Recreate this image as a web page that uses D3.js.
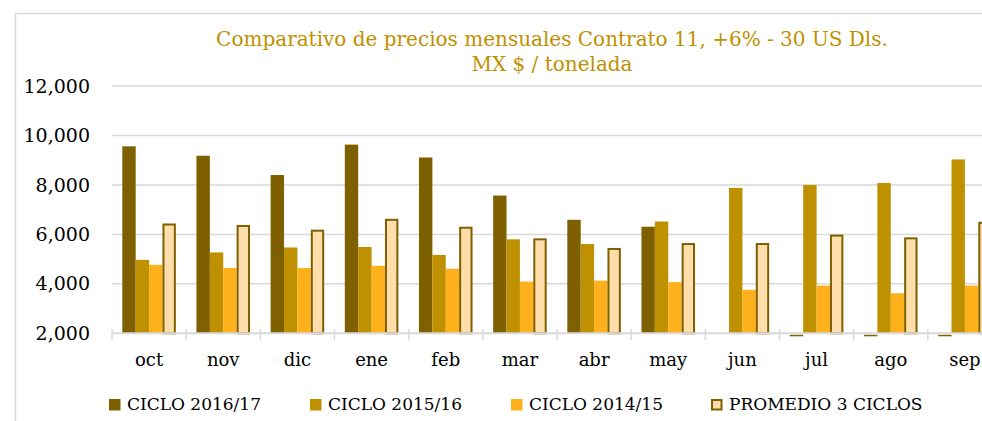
<!DOCTYPE html>
<html>
<head>
<meta charset="utf-8">
<script src="https://cdn.jsdelivr.net/npm/d3@7"></script>
<style>
  body { margin: 0; background: #fff; }
  svg { display: block; font-family: "DejaVu Serif", "Liberation Serif", serif; }
</style>
</head>
<body>
<svg id="chart" width="982" height="421"></svg>
<script>
// months of the cycle (oct - sep)
var months = ["oct","nov","dic","ene","feb","mar","abr","may","jun","jul","ago","sep"];
var seriesNames = ["CICLO 2016/17","CICLO 2015/16","CICLO 2014/15","PROMEDIO 3 CICLOS"];
var ciclo1617 = [9560, 9180, 8400, 9630, 9110, 7570, 6590, 6310, null, 0, 0, 0];
var ciclo1516 = [4970, 5270, 5470, 5490, 5170, 5800, 5610, 6520, 7880, 8000, 8080, 9030];
var ciclo1415 = [4770, 4640, 4640, 4730, 4610, 4090, 4130, 4070, 3760, 3930, 3620, 3930];
var promedio  = [6440, 6380, 6190, 6630, 6310, 5840, 5450, 5650, 5650, 5990, 5880, 6510];
var yTicks = [2000, 4000, 6000, 8000, 10000, 12000];
var titleLines = ["Comparativo de precios mensuales Contrato 11, +6% - 30 US Dls.", "MX $ / tonelada"];

var fills = ["#7f6000", "#bf9000", "#ffb11b", "#ffdeab"];
var strokes = [null, null, null, "#7f6000"];
var allSeries = [ciclo1617, ciclo1516, ciclo1415, promedio];

var svg = d3.select("#chart");

// chart frame (right/bottom edges fall outside the picture)
svg.append("path")
    .attr("d", "M15.5,430 V13.5 H1000")
    .attr("fill", "none").attr("stroke", "#d9d9d9").attr("stroke-width", 1.5);

var plotLeft = 112, plotRight = 1002, plotTop = 86, plotBottom = 333.3;

var x0 = d3.scaleBand().domain(months).range([plotLeft, plotRight]).paddingInner(0.278).paddingOuter(0.139);
var x1 = d3.scaleBand().domain(d3.range(4)).range([0, x0.bandwidth()]);
var y = d3.scaleLinear().domain([2000, 12000]).range([plotBottom, plotTop]);

// gridlines
svg.append("g").selectAll("line").data(yTicks.slice(1)).enter().append("line")
    .attr("x1", plotLeft).attr("x2", plotRight)
    .attr("y1", function(d){ return y(d); }).attr("y2", function(d){ return y(d); })
    .attr("stroke", "#d9d9d9").attr("stroke-width", 1.5);

// y labels
svg.append("g").selectAll("text").data(yTicks).enter().append("text")
    .attr("x", 90).attr("y", function(d){ return y(d); })
    .attr("dy", "0.35em").attr("text-anchor", "end")
    .attr("font-size", "19px").attr("fill", "#000")
    .text(d3.format(","));

// bars
var groups = svg.append("g").selectAll("g").data(months).enter().append("g")
    .attr("transform", function(d){ return "translate(" + x0(d) + ",0)"; });

groups.selectAll("rect").data(function(d, i){
        return allSeries.map(function(s, k){ return {k: k, v: s[i]}; });
    }).enter().filter(function(d){ return d.v !== null; })
    .append("rect")
    .attr("x", function(d){ return x1(d.k) + (strokes[d.k] ? 1 : 0); })
    .attr("width", function(d){ return x1.bandwidth() - (strokes[d.k] ? 2 : 0); })
    .attr("y", function(d){ return d.v < 2000 ? plotBottom + 1.5 : y(d.v) + (strokes[d.k] ? 1 : 0); })
    .attr("height", function(d){ return d.v < 2000 ? 1.5 : plotBottom - y(d.v) - (strokes[d.k] ? 1 : 0); })
    .attr("fill", function(d){ return fills[d.k]; })
    .attr("stroke", function(d){ return strokes[d.k] || "none"; })
    .attr("stroke-width", 2);

// x axis line and ticks
svg.append("line").attr("x1", plotLeft).attr("x2", plotRight).attr("y1", plotBottom).attr("y2", plotBottom)
    .attr("stroke", "#d9d9d9").attr("stroke-width", 2);
var step = x0.step();
svg.append("g").selectAll("line").data(d3.range(months.length + 1)).enter().append("line")
    .attr("x1", function(i){ return plotLeft + i * step; }).attr("x2", function(i){ return plotLeft + i * step; })
    .attr("y1", plotBottom - 4).attr("y2", plotBottom + 7)
    .attr("stroke", "#d9d9d9").attr("stroke-width", 1.5);

// month labels
svg.append("g").selectAll("text").data(months).enter().append("text")
    .attr("x", function(d){ return x0(d) + x0.bandwidth() / 2; })
    .attr("y", 366).attr("text-anchor", "middle")
    .attr("font-size", "18px").attr("fill", "#000")
    .text(function(d){ return d; });

// title
svg.append("g").selectAll("text").data(titleLines).enter().append("text")
    .attr("x", 552).attr("y", function(d, i){ return 46 + i * 25; })
    .attr("text-anchor", "middle").attr("font-size", "20px").attr("fill", "#bf9000")
    .text(function(d){ return d; });

// legend
var legendX = [109, 310, 511, 711];
var leg = svg.append("g").selectAll("g").data(seriesNames).enter().append("g")
    .attr("transform", function(d, i){ return "translate(" + legendX[i] + ",399)"; });
leg.append("rect")
    .attr("x", function(d, i){ return strokes[i] ? 1 : 0; })
    .attr("y", function(d, i){ return strokes[i] ? 1 : 0; })
    .attr("width", function(d, i){ return strokes[i] ? 9.5 : 11.5; })
    .attr("height", function(d, i){ return strokes[i] ? 9.5 : 11.5; })
    .attr("fill", function(d, i){ return fills[i]; })
    .attr("stroke", function(d, i){ return strokes[i] || "none"; })
    .attr("stroke-width", 2);
leg.append("text").attr("x", 18).attr("y", 11)
    .attr("font-size", "17px").attr("fill", "#000")
    .text(function(d){ return d; });
</script>
</body>
</html>
